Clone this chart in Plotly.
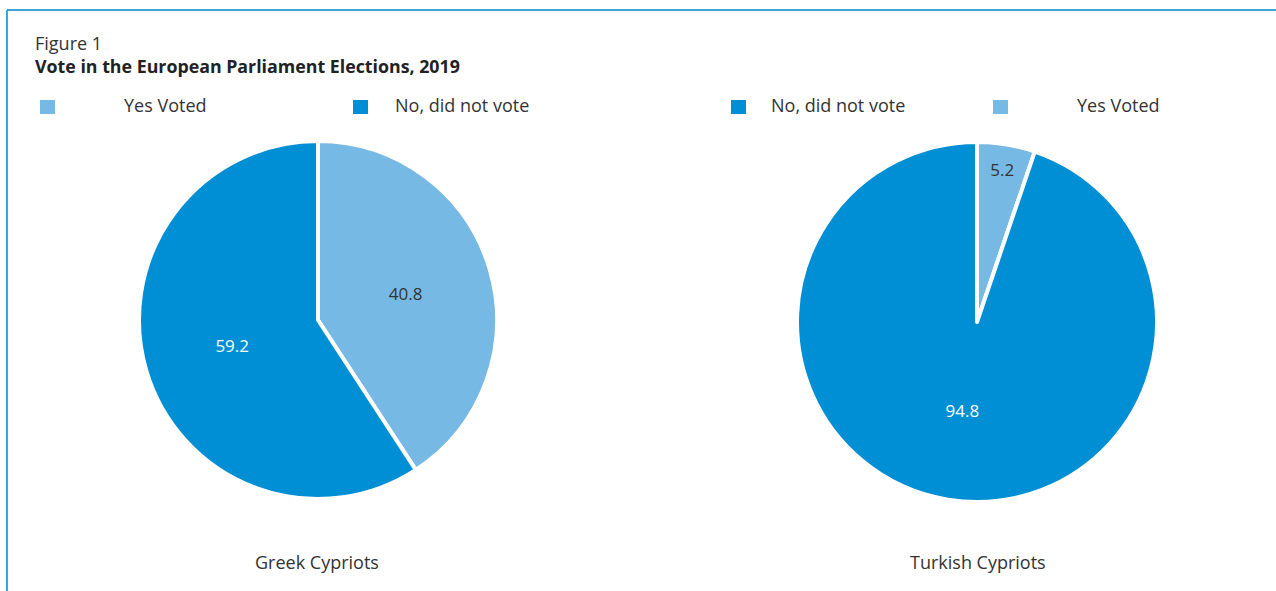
import plotly.graph_objects as go

W, H = 1276, 591

# Survey results: share of respondents (%)
groups = ["Greek Cypriots", "Turkish Cypriots"]
answers = ["Yes Voted", "No, did not vote"]
greek_values = [40.8, 59.2]
turkish_values = [5.2, 94.8]

light_blue = "#77b9e5"
dark_blue = "#008fd5"
text_dark = "#333333"
font_family = "Open Sans, Noto Sans, sans-serif"


def px_x(x):
    return x / W


def px_y(y):
    return 1 - y / H


fig = go.Figure()

# Greek Cypriots pie
fig.add_trace(go.Pie(
    labels=answers, values=greek_values, sort=False, direction="clockwise",
    rotation=0,
    marker=dict(colors=[light_blue, dark_blue], line=dict(color="white", width=4)),
    texttemplate="%{value}", textposition="inside",
    insidetextfont=dict(color=[text_dark, "white"], size=17, family=font_family),
    domain=dict(x=[px_x(139), px_x(497)], y=[px_y(499), px_y(141)]),
    showlegend=False, hoverinfo="label+value",
))

# Turkish Cypriots pie
fig.add_trace(go.Pie(
    labels=answers, values=turkish_values, sort=False, direction="clockwise",
    rotation=0,
    marker=dict(colors=[light_blue, dark_blue], line=dict(color="white", width=4)),
    texttemplate="%{value}", textposition="inside",
    insidetextfont=dict(color=[text_dark, "white"], size=17, family=font_family),
    domain=dict(x=[px_x(797), px_x(1157)], y=[px_y(502), px_y(142)]),
    showlegend=False, hoverinfo="label+value",
))

shapes = [
    # frame lines
    dict(type="line", xref="paper", yref="paper", x0=px_x(7), x1=1.0,
         y0=px_y(10), y1=px_y(10), line=dict(color="#3aa6dc", width=2)),
    dict(type="line", xref="paper", yref="paper", x0=px_x(7), x1=px_x(7),
         y0=px_y(10), y1=0, line=dict(color="#3aa6dc", width=2)),
]

annotations = [
    dict(text="Figure 1", x=px_x(33), y=px_y(43), xanchor="left", yanchor="middle",
         font=dict(size=18, color=text_dark, family=font_family)),
    dict(text="<b>Vote in the European Parliament Elections, 2019</b>", x=px_x(33),
         y=px_y(66), xanchor="left", yanchor="middle",
         font=dict(size=17.8, color="#222222", family=font_family)),
]

# Legend entries: (square left x, text left x, colour, label)
legend_items = [
    (40, 122, light_blue, answers[0]),
    (353, 393, dark_blue, answers[1]),
    (731, 769, dark_blue, answers[1]),
    (993, 1075, light_blue, answers[0]),
]
for sq_x, tx_x, col, lab in legend_items:
    shapes.append(dict(type="rect", xref="paper", yref="paper",
                       x0=px_x(sq_x), x1=px_x(sq_x + 15),
                       y0=px_y(114), y1=px_y(100),
                       fillcolor=col, line=dict(width=0)))
    annotations.append(dict(text=lab, x=px_x(tx_x), y=px_y(105), xanchor="left",
                            yanchor="middle",
                            font=dict(size=18, color=text_dark, family=font_family)))

# Group captions beneath each pie
for cx, name in [(317, groups[0]), (978, groups[1])]:
    annotations.append(dict(text=name, x=px_x(cx), y=px_y(562), xanchor="center",
                            yanchor="middle",
                            font=dict(size=18, color=text_dark, family=font_family)))

for a in annotations:
    a.update(xref="paper", yref="paper", showarrow=False)

fig.update_layout(
    width=W, height=H, margin=dict(l=0, r=0, t=0, b=0),
    paper_bgcolor="white", plot_bgcolor="white",
    shapes=shapes, annotations=annotations,
)

fig.write_html("out.html")
